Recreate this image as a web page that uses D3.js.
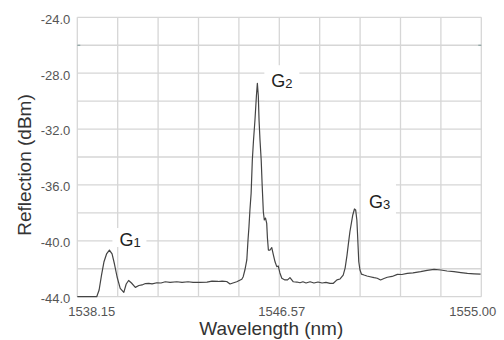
<!DOCTYPE html>
<html>
<head>
<meta charset="utf-8">
<script src="https://cdn.jsdelivr.net/npm/d3@7"></script>
<style>
  html, body { margin: 0; padding: 0; background: #fff; }
  svg { display: block; font-family: "Liberation Sans", Arial, sans-serif; }
</style>
</head>
<body>
<svg id="chart" width="504" height="340"></svg>
<script>
// Reflection spectrum of three gratings (G1, G2, G3)
const wavelength = [
  1538.15, 1538.96, 1539.06, 1539.16, 1539.26, 1539.37, 1539.49, 1539.60, 1539.70, 1539.81,
  1539.94, 1540.09, 1540.19, 1540.29, 1540.41, 1540.57, 1540.72, 1540.85, 1540.99, 1541.13,
  1541.27, 1541.47, 1541.64, 1541.82, 1542.02, 1542.30, 1542.52, 1542.77, 1542.98, 1543.27,
  1543.56, 1543.77, 1544.02, 1544.19, 1544.38, 1544.52, 1544.64, 1544.80, 1545.01, 1545.07,
  1545.14, 1545.22, 1545.27, 1545.31, 1545.35, 1545.40, 1545.45, 1545.50, 1545.56, 1545.62,
  1545.66, 1545.70, 1545.73, 1545.77, 1545.82, 1545.86, 1545.91, 1545.95, 1546.00, 1546.05,
  1546.08, 1546.12, 1546.19, 1546.26, 1546.33, 1546.40, 1546.47, 1546.53, 1546.60, 1546.68,
  1546.81, 1546.92, 1547.02, 1547.16, 1547.31, 1547.44, 1547.56, 1547.69, 1547.86, 1548.02,
  1548.19, 1548.36, 1548.52, 1548.69, 1548.83, 1548.98, 1549.11, 1549.24, 1549.32, 1549.40,
  1549.46, 1549.52, 1549.59, 1549.64, 1549.71, 1549.76, 1549.81, 1549.84, 1549.89, 1549.94,
  1550.00, 1550.11, 1550.23, 1550.36, 1550.53, 1550.66, 1550.80, 1550.94, 1551.08, 1551.28,
  1551.50, 1551.69, 1551.91, 1552.15, 1552.47, 1552.74, 1553.03, 1553.31, 1553.57, 1553.86,
  1554.15, 1554.42, 1554.70, 1554.97
];
const reflection = [
  -44.00, -44.00, -43.52, -42.45, -41.52, -40.94, -40.66, -40.94, -41.66, -42.59,
  -43.40, -43.69, -43.09, -42.84, -43.02, -43.33, -43.20, -43.16, -43.06, -43.04,
  -43.08, -43.00, -43.02, -42.93, -42.98, -42.93, -42.97, -42.93, -42.98, -42.98,
  -42.96, -42.88, -42.91, -42.88, -42.91, -43.09, -43.02, -42.93, -42.75, -42.57,
  -42.09, -41.37, -39.94, -38.99, -37.79, -36.60, -34.21, -32.78, -31.35, -29.63,
  -28.72, -29.63, -31.35, -32.78, -34.21, -36.00, -37.94, -38.51, -38.37, -38.75,
  -39.80, -40.66, -40.66, -40.48, -41.02, -41.52, -41.85, -41.80, -42.30, -42.68,
  -42.80, -42.80, -42.63, -42.93, -42.95, -43.00, -42.93, -43.02, -42.93, -43.02,
  -42.95, -43.02, -42.98, -43.04, -43.04, -42.80, -42.73, -42.45, -41.95, -41.02,
  -40.16, -39.35, -38.65, -38.15, -37.72, -37.79, -38.51, -39.58, -41.50, -42.09,
  -42.38, -42.45, -42.52, -42.57, -42.64, -42.68, -42.80, -42.70, -42.61, -42.55,
  -42.40, -42.41, -42.33, -42.30, -42.21, -42.12, -42.04, -42.09, -42.16, -42.21,
  -42.27, -42.33, -42.36, -42.38
];

// Axis extents and tick labels
const xDomain = [1538.15, 1555.00];
const yDomain = [-44, -24];
const xTickLabels = ["1538.15", "1546.57", "1555.00"];
const yTickLabels = [-44, -40, -36, -32, -28, -24];

// Peak annotations: name, subscript, peak wavelength and level
const peakNames = ["G", "G", "G"];
const peakSubs = ["1", "2", "3"];
const peakWl = [1539.49, 1545.66, 1549.71];
const peakVal = [-40.66, -28.72, -37.72];

const svg = d3.select("#chart");
const W = 504, H = 340;
const margin = { left: 77.3, right: 22.7, top: 17.3, bottom: 43.3 };
const iw = W - margin.left - margin.right;
const ih = H - margin.top - margin.bottom;

const x = d3.scaleLinear().domain(xDomain).range([0, iw]);
const y = d3.scaleLinear().domain(yDomain).range([ih, 0]);

const g = svg.append("g").attr("transform", `translate(${margin.left},${margin.top})`);

// Grid: 10 divisions each way
const gridColor = "#d6d6d6";
const xGrid = d3.range(11).map(i => xDomain[0] + i * (xDomain[1] - xDomain[0]) / 10);
const yGrid = d3.range(11).map(i => yDomain[0] + i * 2);

g.append("g").selectAll("line").data(xGrid).join("line")
  .attr("x1", d => x(d)).attr("x2", d => x(d))
  .attr("y1", 0).attr("y2", ih)
  .attr("stroke", gridColor).attr("stroke-width", 1.3);
g.append("g").selectAll("line").data(yGrid).join("line")
  .attr("x1", 0).attr("x2", iw)
  .attr("y1", d => y(d)).attr("y2", d => y(d))
  .attr("stroke", gridColor).attr("stroke-width", 1.3);

// small markers at -26 dBm on both edges
g.append("line").attr("x1", 0).attr("x2", 3).attr("y1", y(-26)).attr("y2", y(-26))
  .attr("stroke", "#7f9a98").attr("stroke-width", 1);
g.append("line").attr("x1", iw - 3).attr("x2", iw).attr("y1", y(-26)).attr("y2", y(-26))
  .attr("stroke", "#7f9a98").attr("stroke-width", 1);

// Y axis labels
const yAxis = d3.axisLeft(y).tickValues(yTickLabels).tickSize(0).tickPadding(7)
  .tickFormat(d => d.toFixed(1));
const ya = g.append("g").call(yAxis);
ya.select(".domain").remove();
ya.selectAll("text")
  .attr("font-size", 13).attr("fill", "#555")
  .attr("font-family", "'Liberation Sans', Arial, sans-serif")
  .attr("dy", "0.45em");

// X axis labels
const xAxis = d3.axisBottom(x).tickValues(xTickLabels.map(Number)).tickSize(0).tickPadding(0)
  .tickFormat((d, i) => xTickLabels[i]);
const xa = g.append("g").attr("transform", `translate(0,${ih})`).call(xAxis);
xa.select(".domain").remove();
xa.selectAll("text")
  .attr("font-size", 13).attr("fill", "#555")
  .attr("font-family", "'Liberation Sans', Arial, sans-serif")
  .attr("y", 19).attr("dy", 0)
  .attr("dx", (d, i) => i === 0 ? 14 : (i === xTickLabels.length - 1 ? -9 : 2));

// Peak label placement (pixel offsets from each peak) and white backing boxes
const labelDx = [10, 14, 14.5];
const labelDy = [-4, 4, -0.7];
const boxes = [[-7, -18, 34, 19], [-7, -22, 35, 35], [-8, -25, 35, 32]];

const labels = g.append("g");
peakNames.forEach((name, i) => {
  const lx = x(peakWl[i]) + labelDx[i];
  const ly = y(peakVal[i]) + labelDy[i];
  const b = boxes[i];
  g.insert("rect", ":scope > path")
    .attr("x", lx + b[0]).attr("y", ly + b[1]).attr("width", b[2]).attr("height", b[3])
    .attr("fill", "#fff");
  const t = labels.append("text").attr("x", lx).attr("y", ly)
    .attr("font-size", 18).attr("fill", "#222");
  t.append("tspan").text(name);
  t.append("tspan").attr("font-size", 13).attr("dy", 1).text(peakSubs[i]);
});

// Spectrum trace
const line = d3.line().x((d, i) => x(wavelength[i])).y(d => y(d));
g.append("path").datum(reflection)
  .attr("d", line)
  .attr("fill", "none").attr("stroke", "#444").attr("stroke-width", 1.2)
  .attr("stroke-linejoin", "round");
labels.raise();

// Axis titles
svg.append("text")
  .attr("x", margin.left + iw / 2 - 8).attr("y", 335)
  .attr("text-anchor", "middle").attr("font-size", 19).attr("fill", "#333")
  .text("Wavelength (nm)");
svg.append("text")
  .attr("transform", `translate(31,${165}) rotate(-90)`)
  .attr("text-anchor", "middle").attr("font-size", 19).attr("fill", "#333")
  .text("Reflection (dBm)");
</script>
</body>
</html>
